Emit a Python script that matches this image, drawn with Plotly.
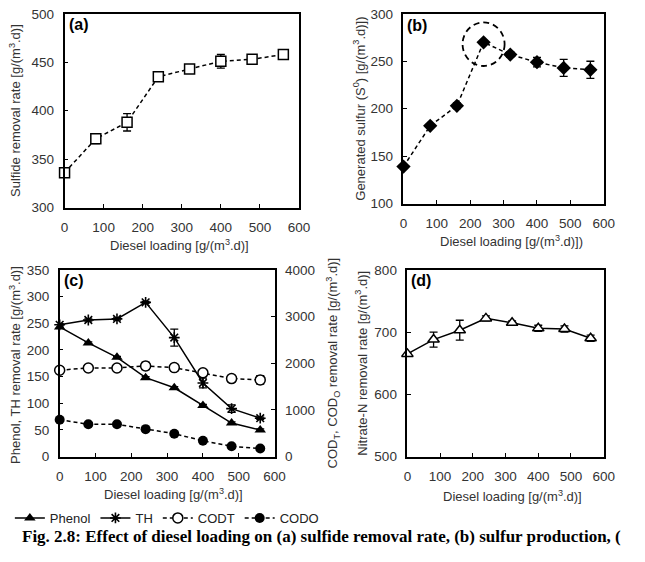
import plotly.graph_objects as go

W, H = 645, 562

loading = [0, 80, 160, 240, 320, 400, 480, 560]

sulfide = [336, 371, 388, 435, 443, 451, 453, 458]
sulfide_err = [2, 5, 9, 3, 2, 7, 2, 4]

sulfur = [139, 182, 203, 270, 257, 249, 243, 241]
sulfur_err = [2, 2, 3, 2, 3, 5, 9, 9]

phenol = [243, 213, 186, 148, 129, 96, 63, 50]
phenol_err = [2, 2, 2, 2, 2, 2, 2, 2]
th = [247, 256, 258, 289, 223, 138, 90, 72]
th_err = [2, 2, 2, 2, 16, 9, 7, 2]
codt = [1851, 1899, 1899, 1941, 1906, 1795, 1671, 1643]
codt_err = [20, 20, 20, 80, 70, 70, 70, 90]
codo = [790, 693, 693, 589, 492, 340, 222, 173]
codo_err = [10, 10, 10, 10, 10, 10, 10, 10]

nitrate = [665, 688, 703, 722, 715, 706, 705, 690]
nitrate_err = [2, 12, 16, 4, 3, 5, 5, 5]

FONT = "Liberation Sans, Arial, sans-serif"
TICKC = "#333333"
DASH = "4px,3px"


def px(x):
    return x / W


def py(y):
    return (H - y) / H


def err(a):
    return dict(type="data", array=a, visible=True, color="black", thickness=1.3, width=4)


fig = go.Figure()

# (a)
fig.add_trace(go.Scatter(x=loading, y=sulfide, error_y=err(sulfide_err), mode="lines+markers",
                         line=dict(color="black", width=1.5, dash=DASH),
                         marker=dict(symbol="square", size=10, color="white", line=dict(color="black", width=1.5)),
                         xaxis="x", yaxis="y", showlegend=False, cliponaxis=False))
# (b)
fig.add_trace(go.Scatter(x=loading, y=sulfur, error_y=err(sulfur_err), mode="lines+markers",
                         line=dict(color="black", width=1.5, dash=DASH),
                         marker=dict(symbol="diamond", size=11, color="black"),
                         xaxis="x2", yaxis="y2", showlegend=False, cliponaxis=False))
# (c)
fig.add_trace(go.Scatter(x=loading, y=phenol, error_y=err(phenol_err), mode="lines+markers", name="Phenol",
                         line=dict(color="black", width=1.5),
                         marker=dict(symbol="triangle-up", size=10, color="black"),
                         xaxis="x3", yaxis="y3", cliponaxis=False))
fig.add_trace(go.Scatter(x=loading, y=th, error_y=err(th_err), mode="lines+markers", name="TH",
                         line=dict(color="black", width=1.5),
                         marker=dict(symbol="asterisk-open", size=9, color="black", line=dict(color="black", width=1.6)),
                         xaxis="x3", yaxis="y3", cliponaxis=False))
fig.add_trace(go.Scatter(x=loading, y=codt, error_y=err(codt_err), mode="lines+markers", name="CODT",
                         line=dict(color="black", width=1.5, dash=DASH),
                         marker=dict(symbol="circle", size=10, color="white", line=dict(color="black", width=1.5)),
                         xaxis="x3", yaxis="y4", cliponaxis=False))
fig.add_trace(go.Scatter(x=loading, y=codo, error_y=err(codo_err), mode="lines+markers", name="CODO",
                         line=dict(color="black", width=1.5, dash=DASH),
                         marker=dict(symbol="circle", size=10, color="black"),
                         xaxis="x3", yaxis="y4", cliponaxis=False))
# (d)
fig.add_trace(go.Scatter(x=loading, y=nitrate, error_y=err(nitrate_err), mode="lines+markers",
                         line=dict(color="black", width=1.5),
                         marker=dict(symbol="triangle-up", size=10, color="white", line=dict(color="black", width=1.5)),
                         xaxis="x4", yaxis="y5", showlegend=False, cliponaxis=False))


def ax(domain, rng, dtick, anchor, **kw):
    d = dict(domain=domain, range=rng, dtick=dtick, anchor=anchor, showgrid=False, zeroline=False,
             showline=True, linecolor="black", linewidth=1.6, mirror=True,
             ticks="inside", ticklen=4, tickwidth=1.3, tickcolor="black",
             tickfont=dict(family=FONT, size=13.5, color=TICKC), ticklabelstandoff=6)
    d.update(kw)
    return d


fig.update_layout(
    width=W, height=H, margin=dict(l=0, r=0, t=0, b=0),
    paper_bgcolor="white", plot_bgcolor="white",
    font=dict(family=FONT, color=TICKC),
    xaxis=ax([px(62), px(302)], [0, 600], 100, "y"),
    yaxis=ax([py(206), py(7)], [300, 500], 50, "x"),
    xaxis2=ax([px(409), px(614)], [0, 600], 100, "y2"),
    yaxis2=ax([py(202), py(7)], [100, 300], 50, "x2"),
    xaxis3=ax([px(57), px(277)], [0, 600], 100, "y3"),
    yaxis3=ax([py(462), py(270)], [0, 350], 50, "x3"),
    yaxis4=ax([py(462), py(270)], [0, 4000], 1000, "x3", overlaying="y3", side="right", mirror=False),
    xaxis4=ax([px(413), px(614)], [0, 600], 100, "y5"),
    yaxis5=ax([py(462), py(270)], [500, 800], 100, "x4"),
    legend=dict(orientation="h", x=px(6), y=py(525), xanchor="left", yanchor="middle",
                font=dict(family=FONT, size=13, color="#222222"), bgcolor="rgba(0,0,0,0)",
                itemwidth=30, tracegroupgap=0),
)

# dashed circle in (b)
fig.add_shape(type="circle", xref="x2", yref="y2", x0=177, x1=303, y0=245, y1=291,
              line=dict(color="black", width=1.8, dash="6px,4px"))

anns = []


def ann(text, x, y, size=13, angle=0, **kw):
    d = dict(text=text, x=px(x), y=py(y), xref="paper", yref="paper", showarrow=False,
             font=dict(family=FONT, size=size, color=TICKC), textangle=angle,
             xanchor="center", yanchor="middle")
    d.update(kw)
    anns.append(d)


DL = "Diesel loading [g/(m<sup>3</sup>.d)]"
ann("Sulfide removal rate [g/(m<sup>3</sup>.d)]", 11, 106, angle=-90)
ann(DL, 180, 245)
ann("Generated sulfur (S<sup>0</sup>) [g/(m<sup>3</sup>.d)])", 364, 105, angle=-90)
ann("Diesel loading [g/(m<sup>3</sup>.d)])", 520, 240)
ann("Phenol, TH removal rate [g/(m<sup>3</sup>.d)]", 11, 368, angle=-90)
ann("COD<sub>T</sub>, COD<sub>O</sub> removal rate [g/(m<sup>3</sup>.d)]", 337, 366, angle=-90)
ann(DL, 174, 500)
ann("Nitrate-N removal rate [g/(m<sup>3</sup>.d)]", 366, 366, angle=-90)
ann(DL, 521, 502)

for lab, x, y in [("(a)", 64, 18), ("(b)", 411, 19), ("(c)", 59, 281), ("(d)", 415, 281)]:
    ann("<b>" + lab + "</b>", x, y, xanchor="left", font=dict(family=FONT, size=16, color="black"))

ann("<b>Fig. 2.8: Effect of diesel loading on (a) sulfide removal rate, (b) sulfur production, (</b>",
    16, 544, xanchor="left", font=dict(family="Liberation Serif, Times New Roman, serif", size=17, color="black"))

fig.update_layout(annotations=anns)
fig.write_html("out.html")
